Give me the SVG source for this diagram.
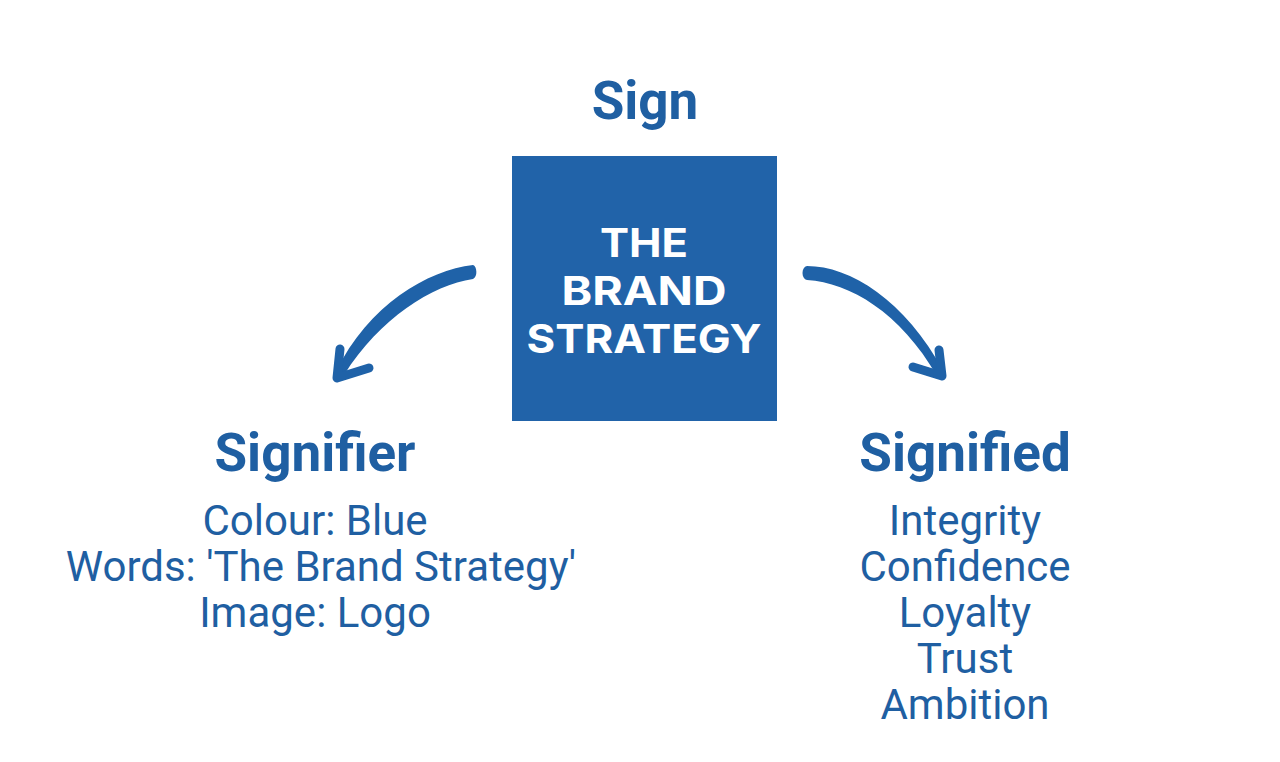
<svg xmlns="http://www.w3.org/2000/svg" width="1280" height="762" viewBox="0 0 1280 762">
<style>
.h{font-family:Roboto,"Liberation Sans",sans-serif;font-weight:700;font-size:53px;fill:#1f5fa2;text-anchor:middle}
.b{font-family:Roboto,"Liberation Sans",sans-serif;font-weight:400;font-size:42px;fill:#1f5fa2;text-anchor:middle}
.t{font-family:Inter,"Liberation Sans",sans-serif;font-weight:700;font-size:39px;fill:#ffffff;text-anchor:middle}
.shaft{fill:#1f62a8}
.barb{fill:none;stroke:#1f62a8;stroke-width:9;stroke-linecap:round;stroke-linejoin:round}
</style>
<rect width="1280" height="762" fill="#ffffff"/>
<g id="sign"><text class="h" x="645" y="119">Sign</text></g>
<g id="brand">
<rect x="512" y="156" width="265" height="265" fill="#2163a9"/>
<text class="t" x="644" y="257" textLength="88" lengthAdjust="spacingAndGlyphs">THE</text>
<text class="t" x="644" y="305" textLength="165" lengthAdjust="spacingAndGlyphs">BRAND</text>
<text class="t" x="644" y="353" textLength="235" lengthAdjust="spacingAndGlyphs">STRATEGY</text>
</g>
<g id="signifier">
<text class="h" x="315" y="471">Signifier</text>
<text class="b" x="315" y="535">Colour: Blue</text>
<text class="b" x="321" y="581">Words: 'The Brand Strategy'</text>
<text class="b" x="315" y="627">Image: Logo</text>
</g>
<g id="signified">
<text class="h" x="965" y="471">Signified</text>
<text class="b" x="965" y="535">Integrity</text>
<text class="b" x="965" y="581">Confidence</text>
<text class="b" x="965" y="627">Loyalty</text>
<text class="b" x="965" y="673">Trust</text>
<text class="b" x="965" y="719">Ambition</text>
</g>
<g id="connectors">
<path class="shaft" d="M473,265 C477,266 478,277 473,279 C432,285 380,318 344,375 L336,372 C368,305 428,270 473,265 Z"/>
<path class="barb" d="M340,349 L337,378 L369,368"/>
<path class="shaft" d="M807,266 C850,266 905,300 944,372 L937,376 C900,312 850,283 807,280 C801,279 801,267 807,266 Z"/>
<path class="barb" d="M939,350 L942,376 L913,367"/>
</g>
</svg>
